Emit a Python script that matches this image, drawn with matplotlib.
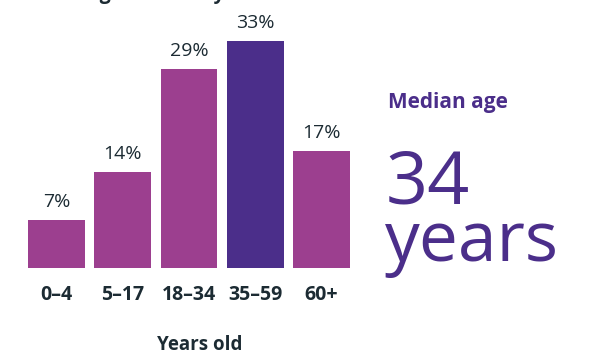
import matplotlib.pyplot as plt

plt.rcParams['font.family'] = ['Open Sans', 'DejaVu Sans']

# data
age_groups = ['0–4', '5–17', '18–34', '35–59', '60+']
shares = [7, 14, 29, 33, 17]
median_age = 34

pink = '#9c3f8f'
purple = '#4b2e8a'
ink = '#1c2b33'
colors = [purple if g == '35–59' else pink for g in age_groups]

fig = plt.figure(figsize=(5.92, 3.54), dpi=100)
ax = fig.add_axes([0.0395, 0.243, 0.5595, 0.680])

x = range(len(age_groups))
bars = ax.bar(x, shares, width=0.86, color=colors)
for b, v in zip(bars, shares):
    ax.text(b.get_x() + b.get_width() / 2, v + 1.3, f'{v}%',
            ha='center', va='bottom', fontsize=14, color=ink)

ax.set_xlim(-0.5, len(age_groups) - 0.5)
ax.set_ylim(0, 35)
ax.set_xticks(list(x))
ax.set_xticklabels(age_groups, fontsize=14, fontweight='bold', color=ink)
ax.tick_params(axis='x', length=0, pad=12)
ax.set_yticks([])
for s in ax.spines.values():
    s.set_visible(False)

fig.text(0.338, 0.012, 'Years old', fontsize=13.5, fontweight='bold',
         color=ink, ha='center', va='baseline')

# title is cropped off in the source: only its descenders peek in
fig.text(0.047, 1.004, 'Mean age in the city', fontsize=14, fontweight='bold',
         color=ink, va='baseline')

fig.text(0.655, 0.71, 'Median age', fontsize=15, fontweight='bold',
         color=purple, va='center')
fig.text(0.652, 0.424, f'{median_age}', fontsize=53, color=purple,
         va='baseline')
fig.text(0.650, 0.262, 'years', fontsize=50, color=purple, va='baseline')

fig.savefig('out.png', dpi=100)
